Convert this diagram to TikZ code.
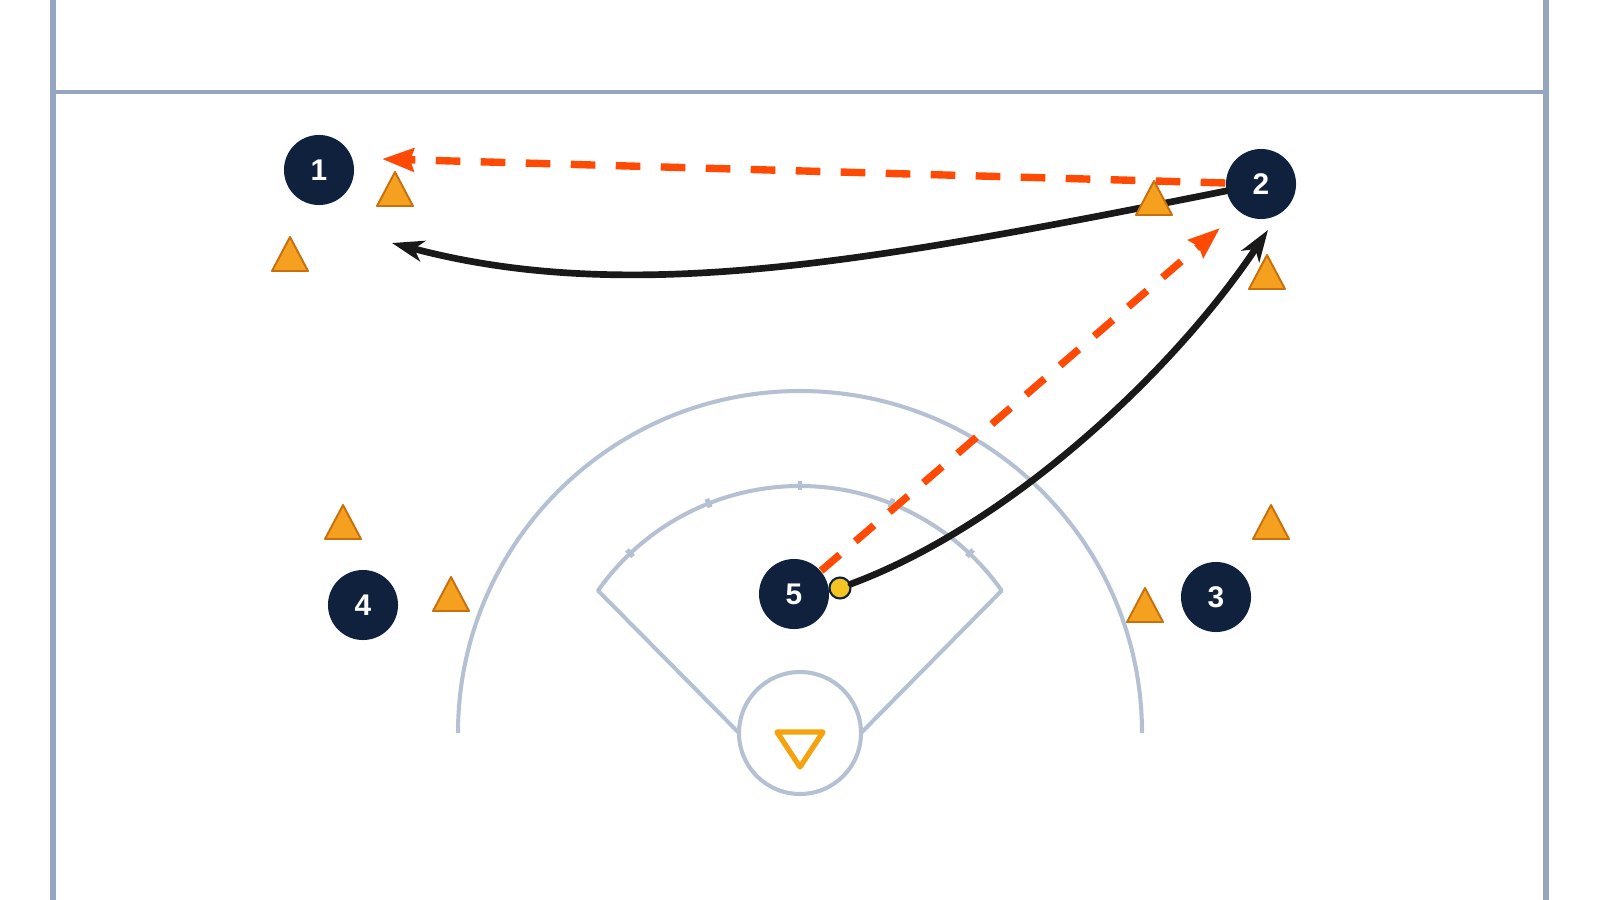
\documentclass[tikz,border=0pt]{standalone}
\usepackage{fontspec}
\setsansfont{Liberation Sans}
\usetikzlibrary{arrows.meta}
\definecolor{navy}{HTML}{0F213D}
\definecolor{conefill}{HTML}{F5A01F}
\definecolor{coneedge}{HTML}{C8700C}
\definecolor{passred}{HTML}{FF4A05}
\definecolor{fieldgray}{HTML}{B5C1D3}
\definecolor{boardgray}{HTML}{95A6C0}
\definecolor{goalorange}{HTML}{F4A30E}
\definecolor{ballyellow}{HTML}{F6C325}

\begin{document}
\begin{tikzpicture}[x=0.01cm, y=-0.01cm,
        player/.style={circle, fill=navy, text=white, minimum size=0.7cm, inner sep=0pt,
            font=\sffamily\bfseries\fontsize{8.5}{9}\selectfont},
        ballnode/.style={circle, fill=ballyellow, draw=navy, line width=0.6pt, minimum size=0.21cm, inner sep=0pt},
        cone/.style={fill=conefill, draw=coneedge, line width=0.55pt, line join=round},
        fieldline/.style={fieldgray, line width=1.15pt},
        pass/.style={passred, line width=2.1pt, dash pattern=on 7pt off 5.8pt,
            -{Stealth[length=9pt, width=6.5pt, inset=1pt]}},
        run/.style={black!90, line width=1.9pt, line cap=round,
            -{Stealth[length=9pt, width=6pt, inset=2.5pt]}}]
            \fill[white] (0,0) rectangle (1600,900);
            \useasboundingbox (0,0) rectangle (1600,900);

            % boards
            \draw[boardgray, line width=1.7pt] (53,0) -- (53,900);
            \draw[boardgray, line width=1.7pt] (1546,0) -- (1546,900);
            \draw[boardgray, line width=1.2pt] (53,92) -- (1546,92);

            % arcs and crease
            \coordinate (goal) at (800,733);
            \draw[fieldline] (458,733) arc[start angle=180, end angle=360, radius=342];
            \draw[fieldline, line join=round] (739,733) -- (598,590.6) arc[start angle=215.2, end angle=324.8, radius=247] -- (861,733);
            \foreach \a in {226.6,248.3,270,291.7,313.4} {
                \draw[fieldline, line width=1.4pt] (goal) ++(\a:243) -- ++(\a:9);
            }
            \draw[fieldline] (goal) circle[radius=61];
            \draw[goalorange, line width=1.5pt, line join=round] (777,732) -- (823,732) -- (800,767) -- cycle;

            % players
            \node[player] (p1) at (319,170) {1};
            \node[player] (p2) at (1261,184) {2};
            \node[player] (p3) at (1216,597) {3};
            \node[player] (p4) at (363,605) {4};
            \node[player] (p5) at (794,594) {5};
            \node[ballnode] (ball) at (840,588) {};

            % passes and runs
            \coordinate (pass1) at (382,159);
            \coordinate (pass2) at (1220,228);
            \coordinate (run1) at (392,243);
            \coordinate (run2) at (1268,230);
            \draw[pass] (p2) -- (pass1);
            \draw[pass] (p5) -- (pass2);
            \draw[run] (p2) .. controls (870,262) and (630,306) .. (run1);
            \draw[run] (ball) .. controls (1010,525) and (1174,371) .. (run2);

            % cones
            \foreach \x/\y in {395/189, 290/254, 1154/198, 1267/272, 343/522, 451/594, 1271/522, 1145/605} {
                \draw[cone] (\x,\y) ++(-18,17) -- ++(36,0) -- ++(-18,-34) -- cycle;
            }
        \end{tikzpicture}
\end{document}
